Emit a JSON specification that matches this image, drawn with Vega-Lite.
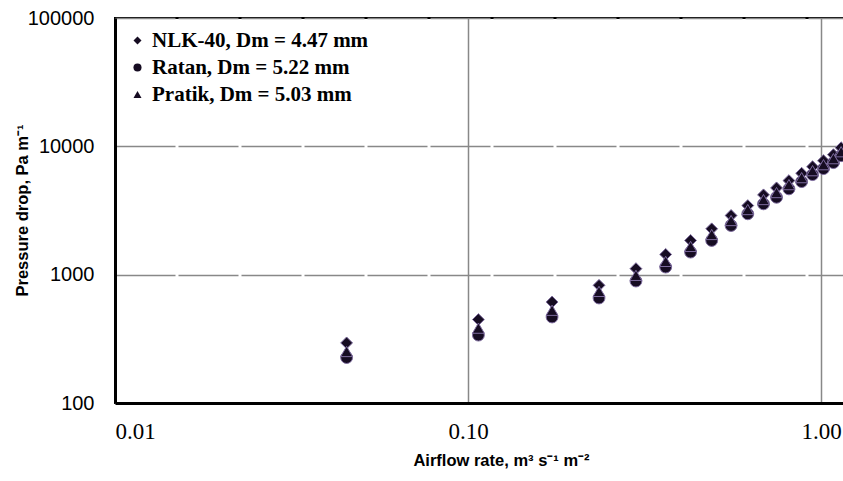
{
  "$schema": "https://vega.github.io/schema/vega-lite/v6.json",
  "width": 730,
  "height": 385,
  "autosize": "none",
  "padding": {"left": 115, "top": 18, "right": 0, "bottom": 78},
  "background": "white",
  "config": {"view": {"stroke": "black", "strokeWidth": 2}},
  "data": {
    "values": [
      {"series": "NLK-40, Dm = 4.47 mm", "rate": 0.0453, "dp": 294},
      {"series": "NLK-40, Dm = 4.47 mm", "rate": 0.107, "dp": 447},
      {"series": "NLK-40, Dm = 4.47 mm", "rate": 0.173, "dp": 612},
      {"series": "NLK-40, Dm = 4.47 mm", "rate": 0.235, "dp": 826},
      {"series": "NLK-40, Dm = 4.47 mm", "rate": 0.299, "dp": 1114},
      {"series": "NLK-40, Dm = 4.47 mm", "rate": 0.363, "dp": 1438},
      {"series": "NLK-40, Dm = 4.47 mm", "rate": 0.427, "dp": 1847},
      {"series": "NLK-40, Dm = 4.47 mm", "rate": 0.490, "dp": 2277},
      {"series": "NLK-40, Dm = 4.47 mm", "rate": 0.556, "dp": 2890},
      {"series": "NLK-40, Dm = 4.47 mm", "rate": 0.620, "dp": 3453},
      {"series": "NLK-40, Dm = 4.47 mm", "rate": 0.687, "dp": 4188},
      {"series": "NLK-40, Dm = 4.47 mm", "rate": 0.748, "dp": 4745},
      {"series": "NLK-40, Dm = 4.47 mm", "rate": 0.811, "dp": 5405},
      {"series": "NLK-40, Dm = 4.47 mm", "rate": 0.881, "dp": 6166},
      {"series": "NLK-40, Dm = 4.47 mm", "rate": 0.946, "dp": 6939},
      {"series": "NLK-40, Dm = 4.47 mm", "rate": 1.016, "dp": 7728},
      {"series": "NLK-40, Dm = 4.47 mm", "rate": 1.084, "dp": 8610},
      {"series": "NLK-40, Dm = 4.47 mm", "rate": 1.14, "dp": 9750},
      {"series": "Ratan, Dm = 5.22 mm", "rate": 0.0453, "dp": 226},
      {"series": "Ratan, Dm = 5.22 mm", "rate": 0.107, "dp": 338},
      {"series": "Ratan, Dm = 5.22 mm", "rate": 0.173, "dp": 468},
      {"series": "Ratan, Dm = 5.22 mm", "rate": 0.235, "dp": 658},
      {"series": "Ratan, Dm = 5.22 mm", "rate": 0.299, "dp": 892},
      {"series": "Ratan, Dm = 5.22 mm", "rate": 0.363, "dp": 1146},
      {"series": "Ratan, Dm = 5.22 mm", "rate": 0.427, "dp": 1499},
      {"series": "Ratan, Dm = 5.22 mm", "rate": 0.490, "dp": 1847},
      {"series": "Ratan, Dm = 5.22 mm", "rate": 0.556, "dp": 2416},
      {"series": "Ratan, Dm = 5.22 mm", "rate": 0.620, "dp": 2979},
      {"series": "Ratan, Dm = 5.22 mm", "rate": 0.687, "dp": 3563},
      {"series": "Ratan, Dm = 5.22 mm", "rate": 0.748, "dp": 4008},
      {"series": "Ratan, Dm = 5.22 mm", "rate": 0.811, "dp": 4660},
      {"series": "Ratan, Dm = 5.22 mm", "rate": 0.881, "dp": 5309},
      {"series": "Ratan, Dm = 5.22 mm", "rate": 0.946, "dp": 6018},
      {"series": "Ratan, Dm = 5.22 mm", "rate": 1.016, "dp": 6699},
      {"series": "Ratan, Dm = 5.22 mm", "rate": 1.084, "dp": 7464},
      {"series": "Ratan, Dm = 5.22 mm", "rate": 1.14, "dp": 8450},
      {"series": "Pratik, Dm = 5.03 mm", "rate": 0.0453, "dp": 252},
      {"series": "Pratik, Dm = 5.03 mm", "rate": 0.107, "dp": 383},
      {"series": "Pratik, Dm = 5.03 mm", "rate": 0.173, "dp": 528},
      {"series": "Pratik, Dm = 5.03 mm", "rate": 0.235, "dp": 741},
      {"series": "Pratik, Dm = 5.03 mm", "rate": 0.299, "dp": 988},
      {"series": "Pratik, Dm = 5.03 mm", "rate": 0.363, "dp": 1269},
      {"series": "Pratik, Dm = 5.03 mm", "rate": 0.427, "dp": 1660},
      {"series": "Pratik, Dm = 5.03 mm", "rate": 0.490, "dp": 2056},
      {"series": "Pratik, Dm = 5.03 mm", "rate": 0.556, "dp": 2642},
      {"series": "Pratik, Dm = 5.03 mm", "rate": 0.620, "dp": 3217},
      {"series": "Pratik, Dm = 5.03 mm", "rate": 0.687, "dp": 3850},
      {"series": "Pratik, Dm = 5.03 mm", "rate": 0.748, "dp": 4363},
      {"series": "Pratik, Dm = 5.03 mm", "rate": 0.811, "dp": 5031},
      {"series": "Pratik, Dm = 5.03 mm", "rate": 0.881, "dp": 5703},
      {"series": "Pratik, Dm = 5.03 mm", "rate": 0.946, "dp": 6462},
      {"series": "Pratik, Dm = 5.03 mm", "rate": 1.016, "dp": 7194},
      {"series": "Pratik, Dm = 5.03 mm", "rate": 1.084, "dp": 8017},
      {"series": "Pratik, Dm = 5.03 mm", "rate": 1.14, "dp": 9080}
    ]
  },
  "mark": {"type": "point", "filled": true, "opacity": 1, "color": "#160c22", "stroke": "#7d6b9e", "strokeWidth": 1, "size": 140},
  "encoding": {
    "x": {
      "field": "rate", "type": "quantitative",
      "scale": {"type": "log", "domain": [0.01, 1.169], "nice": false},
      "axis": {
        "values": [0.01, 0.1, 1], "format": ".2f", "ticks": false,
        "labelFont": "Liberation Serif", "labelFontSize": 23, "labelColor": "black",
        "labelPadding": 28, "labelBaseline": "middle", "labelFlush": true,
        "grid": true, "gridColor": "#888888", "gridWidth": 1.5,
        "domainColor": "black", "domainWidth": 3,
        "title": "Airflow rate, m³ s⁻¹ m⁻²", "titleFont": "Liberation Sans", "titleFontSize": 16.5,
        "titleFontWeight": "bold", "titleColor": "black",
        "titleX": 386, "titleY": 57, "titleBaseline": "middle", "titleAlign": "center"
      }
    },
    "y": {
      "field": "dp", "type": "quantitative",
      "scale": {"type": "log", "domain": [100, 100000], "nice": false},
      "axis": {
        "values": [100, 1000, 10000, 100000], "format": "d", "ticks": false,
        "labelFont": "Liberation Sans", "labelFontSize": 20, "labelColor": "black",
        "labelPadding": 21, "labelFlush": false,
        "grid": true, "gridColor": "#888888", "gridWidth": 1.5, "gridDash": [60, 3],
        "domainColor": "black", "domainWidth": 3,
        "title": "Pressure drop, Pa m⁻¹", "titleFont": "Liberation Sans", "titleFontSize": 16.5,
        "titleFontWeight": "bold", "titleColor": "black", "titleAngle": -90,
        "titleX": -93, "titleY": 192, "titleBaseline": "middle", "titleAlign": "center"
      }
    },
    "shape": {
      "field": "series", "type": "nominal",
      "scale": {
        "domain": ["NLK-40, Dm = 4.47 mm", "Ratan, Dm = 5.22 mm", "Pratik, Dm = 5.03 mm"],
        "range": ["diamond", "circle", "triangle-up"]
      },
      "legend": {
        "title": null, "orient": "none", "legendX": 12, "legendY": 12,
        "padding": 0, "symbolSize": 65, "symbolFillColor": "#160c22", "symbolStrokeColor": "#160c22",
        "symbolStrokeWidth": 0,
        "labelFont": "Liberation Serif", "labelFontSize": 21, "labelFontWeight": "bold",
        "labelColor": "black", "labelOffset": 4, "rowPadding": 5, "labelLimit": 500
      }
    }
  }
}
